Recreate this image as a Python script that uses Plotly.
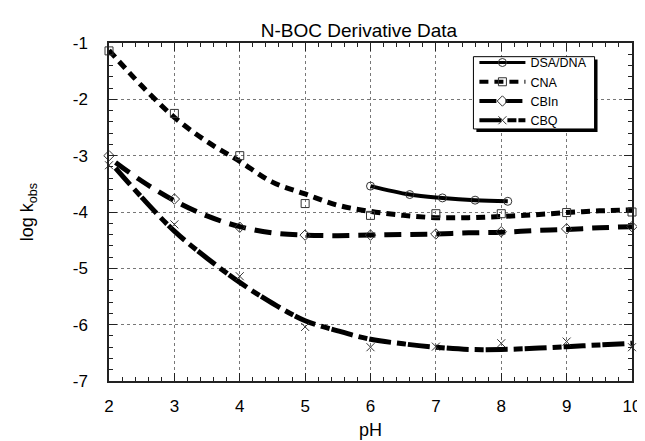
import plotly.graph_objects as go

# measured points
ph_pts = [2, 3, 4, 5, 6, 7, 8, 9, 10]
cna_pts = [-1.14, -2.25, -3.0, -3.85, -4.06, -4.03, -4.03, -4.01, -4.0]
cbin_pts = [-3.0, -3.77, -4.27, -4.41, -4.41, -4.39, -4.35, -4.30, -4.26]
cbq_pts = [-3.17, -4.22, -5.14, -6.04, -6.40, -6.39, -6.33, -6.30, -6.40]
dsa_ph = [6.0, 6.6, 7.1, 7.6, 8.1]
dsa_pts = [-3.54, -3.69, -3.75, -3.79, -3.81]

# fitted curves
cna_fit_ph = [2, 2.5, 3, 3.5, 4, 4.5, 5, 5.5, 6, 6.5, 7, 7.5, 8, 8.5, 9, 9.5, 10]
cna_fit = [-1.13, -1.76, -2.32, -2.75, -3.10, -3.47, -3.68, -3.88, -3.99,
           -4.06, -4.10, -4.10, -4.08, -4.05, -4.01, -3.98, -3.96]
cb_fit_ph = [2.1, 2.5, 3, 3.5, 4, 4.5, 5, 5.5, 6, 6.5, 7, 7.5, 8, 8.5, 9, 9.5, 10]
cbin_fit = [-3.12, -3.45, -3.80, -4.07, -4.26, -4.37, -4.41, -4.42, -4.41,
            -4.40, -4.39, -4.37, -4.36, -4.33, -4.31, -4.28, -4.26]
cbq_fit = [-3.22, -3.74, -4.34, -4.82, -5.25, -5.62, -5.93, -6.11, -6.26,
           -6.34, -6.40, -6.44, -6.44, -6.42, -6.39, -6.36, -6.33]

x_ticks = [2, 3, 4, 5, 6, 7, 8, 9, 10]
y_ticks = [-7, -6, -5, -4, -3, -2, -1]
y_ticklabels = ['-7', '-6', '-5', '-4', '-3', '-2', '-1']

FONT = 'Liberation Sans, Arial, sans-serif'
mk_line = dict(color='#333', width=1)

series = [
    # name, fit x, fit y, pts x, pts y, dash, width, symbol
    ('DSA/DNA', dsa_ph, dsa_pts, dsa_ph, dsa_pts, 'solid', 4, 'circle-open'),
    ('CNA', cna_fit_ph, cna_fit, ph_pts, cna_pts, '9px,6px', 5, 'square-open'),
    ('CBIn', cb_fit_ph, cbin_fit, ph_pts, cbin_pts, '17px,9px', 5, 'diamond-open'),
    ('CBQ', cb_fit_ph, cbq_fit, ph_pts, cbq_pts, '22px,6px,9px,2px', 5, 'x-thin-open'),
]

fig = go.Figure()
for name, fx, fy, px, py, dash, w, sym in series:
    fig.add_trace(go.Scatter(x=fx, y=fy, mode='lines', line_shape='spline',
                             line=dict(color='black', width=w, dash=dash),
                             showlegend=False, hoverinfo='skip'))
    fig.add_trace(go.Scatter(x=px, y=py, mode='markers', cliponaxis=False,
                             marker=dict(symbol=sym, size=8, color='#333', line=mk_line),
                             showlegend=False))
    # legend entry only
    fig.add_trace(go.Scatter(x=[None], y=[None], mode='lines+markers', name=name,
                             line=dict(color='black', width=w - 1, dash=dash),
                             marker=dict(symbol=sym, size=8, color='#333', line=mk_line)))

axis_common = dict(
    showline=True, linecolor='#222', linewidth=1.5, mirror='allticks',
    ticks='inside', ticklen=8, tickcolor='#222',
    showgrid=True, gridcolor='#777', gridwidth=1, griddash='dot',
    zeroline=False,
    tickfont=dict(family=FONT, size=17, color='black'),
    minor=dict(dtick=0.2, ticks='inside', ticklen=4, tickcolor='#222', showgrid=False),
)

fig.update_xaxes(range=[2, 10], tickvals=x_ticks, ticklabelstandoff=9,
                 title=dict(text='pH', font=dict(family=FONT, size=18, color='black'), standoff=8),
                 **axis_common)
fig.update_yaxes(range=[-7, -1], tickvals=y_ticks, ticktext=y_ticklabels, ticklabelstandoff=16,
                 title=dict(text='log k<sub>obs</sub>', font=dict(family=FONT, size=18, color='black'), standoff=34),
                 **axis_common)

# legend box with drop shadow
def px_x(p):
    return (p - 101) / 531

def px_y(p):
    return (381 - p) / 346

lx0, lx1, ly0, ly1 = 471, 594, 49, 123
fig.add_shape(type='rect', xref='paper', yref='paper', layer='above',
              x0=px_x(lx0 + 3), x1=px_x(lx1 + 3), y0=px_y(ly1 + 3), y1=px_y(ly0 + 3),
              fillcolor='black', line=dict(width=0))
fig.add_shape(type='rect', xref='paper', yref='paper', layer='above',
              x0=px_x(lx0), x1=px_x(lx1), y0=px_y(ly1), y1=px_y(ly0),
              fillcolor='white', line=dict(color='black', width=1))

fig.update_layout(
    width=645, height=441,
    margin=dict(l=101, r=13, t=35, b=60),
    paper_bgcolor='white', plot_bgcolor='white',
    title=dict(text='N-BOC Derivative Data', x=351 / 645, xanchor='center',
               y=1 - 22 / 441, yanchor='middle',
               font=dict(family=FONT, size=19, color='black')),
    legend=dict(x=px_x(lx0 + 1), y=px_y(ly0 - 9), xanchor='left', yanchor='top',
                bgcolor='rgba(0,0,0,0)', borderwidth=0, itemwidth=46, tracegroupgap=0,
                font=dict(family=FONT, size=12.5, color='black')),
    showlegend=True,
)

fig.write_html("out.html")
